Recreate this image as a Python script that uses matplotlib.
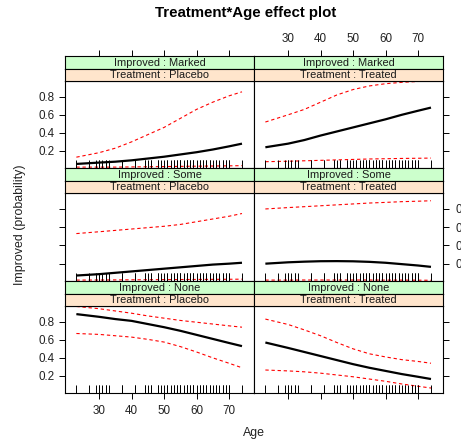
import matplotlib
matplotlib.use("Agg")
import matplotlib.pyplot as plt
import matplotlib.transforms as mtransforms

plt.rcParams['font.family'] = ['Liberation Sans', 'DejaVu Sans']

# ages at which the fitted probabilities are shown
ages = [23, 30, 35, 40, 45, 50, 55, 60, 65, 70, 74]

# observed ages (rug)
rug_ages = [23, 27, 29, 30, 30, 31, 32, 32, 33, 37, 37, 41, 41, 44, 44, 45, 46, 46,
            48, 48, 49, 50, 51, 51, 52, 53, 53, 54, 54, 55, 55, 55, 56, 57, 57, 57,
            58, 58, 59, 59, 59, 60, 61, 61, 62, 62, 63, 63, 64, 64, 65, 66, 66, 67,
            68, 68, 69, 69, 70, 70, 74]

# fit, lower, upper for each (Improved, Treatment)
fit = {
    ('Marked', 'Placebo'): [0.055, 0.07, 0.08, 0.095, 0.115, 0.135, 0.16, 0.185, 0.215, 0.25, 0.28],
    ('Marked', 'Treated'): [0.24, 0.28, 0.32, 0.37, 0.415, 0.46, 0.505, 0.55, 0.60, 0.645, 0.68],
    ('Some', 'Placebo'): [0.07, 0.085, 0.10, 0.115, 0.13, 0.145, 0.16, 0.175, 0.19, 0.20, 0.21],
    ('Some', 'Treated'): [0.20, 0.215, 0.222, 0.227, 0.228, 0.226, 0.22, 0.21, 0.195, 0.18, 0.165],
    ('None', 'Placebo'): [0.885, 0.855, 0.83, 0.81, 0.775, 0.74, 0.70, 0.655, 0.61, 0.565, 0.53],
    ('None', 'Treated'): [0.57, 0.51, 0.465, 0.42, 0.375, 0.33, 0.29, 0.255, 0.22, 0.19, 0.165],
}
lower = {
    ('Marked', 'Placebo'): [0.02, 0.02, 0.02, 0.022, 0.024, 0.026, 0.028, 0.03, 0.032, 0.034, 0.036],
    ('Marked', 'Treated'): [0.08, 0.085, 0.09, 0.095, 0.10, 0.105, 0.11, 0.113, 0.116, 0.118, 0.12],
    ('Some', 'Placebo'): [0.02, 0.021, 0.022, 0.023, 0.024, 0.025, 0.026, 0.027, 0.028, 0.029, 0.03],
    ('Some', 'Treated'): [0.02, 0.02, 0.021, 0.021, 0.021, 0.021, 0.021, 0.02, 0.02, 0.019, 0.018],
    ('None', 'Placebo'): [0.67, 0.66, 0.645, 0.63, 0.605, 0.575, 0.525, 0.465, 0.40, 0.34, 0.29],
    ('None', 'Treated'): [0.265, 0.255, 0.245, 0.23, 0.21, 0.19, 0.165, 0.14, 0.11, 0.085, 0.065],
}
upper = {
    ('Marked', 'Placebo'): [0.13, 0.18, 0.23, 0.30, 0.38, 0.46, 0.56, 0.66, 0.74, 0.81, 0.855],
    ('Marked', 'Treated'): [0.52, 0.60, 0.66, 0.74, 0.82, 0.88, 0.92, 0.945, 0.96, 0.97, 0.975],
    ('Some', 'Placebo'): [0.53, 0.55, 0.565, 0.58, 0.595, 0.61, 0.63, 0.66, 0.69, 0.72, 0.75],
    ('Some', 'Treated'): [0.80, 0.815, 0.825, 0.835, 0.845, 0.855, 0.865, 0.872, 0.88, 0.885, 0.89],
    ('None', 'Placebo'): [0.97, 0.945, 0.92, 0.895, 0.865, 0.84, 0.815, 0.795, 0.775, 0.755, 0.74],
    ('None', 'Treated'): [0.83, 0.77, 0.71, 0.645, 0.57, 0.50, 0.445, 0.41, 0.38, 0.36, 0.34],
}

improved_levels = ['Marked', 'Some', 'None']
treatments = ['Placebo', 'Treated']
xticks = [30, 40, 50, 60, 70]
yticks = [0.2, 0.4, 0.6, 0.8]
xlim = (19.5, 77.7)
ylim = (0.01, 0.975)

W, H = 461, 442
fig = plt.figure(figsize=(W / 100, H / 100), dpi=100)


def frac(x0, y0, x1, y1):
    # pixel box (top-left origin) -> figure fraction rect
    return [x0 / W, 1 - y1 / H, (x1 - x0) / W, (y1 - y0) / H]


col_x = [(65, 254), (254, 443)]
row_top = [56, 168, 281]
strip_h = 12.5
panel_bottom = [168, 281, 393]

tick_kw = dict(direction='out', length=4.3, width=0.7, labelsize=8.4, pad=3.5,
               labelcolor='#222222')

for r, imp in enumerate(improved_levels):
    for c, trt in enumerate(treatments):
        x0, x1 = col_x[c]
        top = row_top[r]
        ptop = top + 2 * strip_h
        pbot = panel_bottom[r]

        # plotting panel
        ax = fig.add_axes(frac(x0, ptop, x1, pbot))
        ax.set_xlim(*xlim)
        ax.set_ylim(*ylim)
        key = (imp, trt)
        ax.plot(ages, upper[key], color='#ff0000', lw=0.8, dashes=(3, 2.5))
        ax.plot(ages, lower[key], color='#ff0000', lw=0.8, dashes=(3, 2.5))
        ax.plot(ages, fit[key], color='black', lw=1.6, solid_capstyle='butt')
        trans = mtransforms.blended_transform_factory(ax.transData, ax.transAxes)
        ax.vlines(rug_ages, 0, 0.09, transform=trans, color='black', lw=0.7)
        for s in ax.spines.values():
            s.set_linewidth(0.8)

        ax.tick_params(**tick_kw)
        ax.set_yticks(yticks)
        ax.set_yticklabels([f'{v:.1f}' for v in yticks])
        # alternating axis labels
        if c == 0:
            ax.yaxis.set_ticks_position('left')
            ax.tick_params(axis='y', labelleft=(r != 1))
        else:
            ax.yaxis.set_ticks_position('right')
            ax.tick_params(axis='y', labelright=(r == 1), labelleft=False, pad=5)
        ax.set_xticks(xticks)
        if r == 2:
            ax.xaxis.set_ticks_position('bottom')
            ax.tick_params(axis='x', labelbottom=(c == 0), pad=4.5)
        else:
            ax.tick_params(axis='x', bottom=False, labelbottom=False)

        # strips: Improved on top (green), Treatment below (peach)
        for k, (label, color) in enumerate([(f'Improved : {imp}', '#ccffcc'),
                                            (f'Treatment : {trt}', '#ffe5cc')]):
            sy0 = top + k * strip_h
            sax = fig.add_axes(frac(x0, sy0, x1, sy0 + strip_h))
            sax.set_facecolor(color)
            sax.set_xlim(*xlim)
            sax.set_yticks([])
            for s in sax.spines.values():
                s.set_linewidth(0.8)
            sax.text(0.5, 0.45, label, ha='center', va='center', fontsize=7.9,
                     color='#1a1a1a', transform=sax.transAxes)
            if r == 0 and k == 0:
                sax.set_xticks(xticks)
                sax.xaxis.set_ticks_position('top')
                sax.tick_params(**tick_kw)
                sax.tick_params(axis='x', labeltop=(c == 1), labelbottom=False)
            else:
                sax.set_xticks([])

fig.text(254 / W, 1 - 433 / H, 'Age', ha='center', va='center', fontsize=8.9,
         color='#222222')
fig.text(20 / W, 1 - 225 / H, 'Improved (probability)', ha='center', va='center',
         rotation=90, fontsize=8.9, color='#222222')
fig.text(246 / W, 1 - 13 / H, 'Treatment*Age effect plot', ha='center', va='center',
         fontsize=10.8, fontweight='bold')

fig.savefig('out.png', dpi=100)
